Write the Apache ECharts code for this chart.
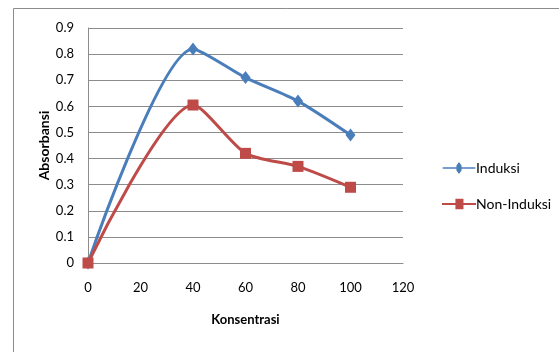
<!DOCTYPE html>
<html>
<head>
<meta charset="utf-8">
<script src="https://cdn.jsdelivr.net/npm/echarts@6/dist/echarts.min.js"></script>
<style>
  html, body { margin: 0; padding: 0; background: #fff; }
  #chart { width: 559px; height: 352px; }
</style>
</head>
<body>
<div id="chart"></div>
<script>
const konsentrasi = [0, 40, 60, 80, 100];
const induksi = [0, 0.82, 0.71, 0.62, 0.49];
const nonInduksi = [0, 0.605, 0.42, 0.37, 0.29];

const FONT = "Lato";
const chart = echarts.init(document.getElementById("chart"));
chart.setOption({
  animation: false,
  textStyle: { fontFamily: FONT },
  grid: { left: 88, right: 156, top: 28, bottom: 89 },
  graphic: [{
    type: "rect", shape: { x: 13.5, y: 8.5, width: 560, height: 360 },
    style: { fill: "none", stroke: "#8c8c8c", lineWidth: 1 }, silent: true
  }],
  legend: {
    orient: "vertical", left: 437, top: 156, itemGap: 22,
    itemWidth: 34, itemHeight: 12,
    textStyle: { fontFamily: FONT, fontSize: 14, color: "#000", padding: [0, 0, 0, -5] },
    data: [
      { name: "Induksi", icon: "path://M0,6L16,6L16,4L19,0L22,4L22,6L38,6L38,8L22,8L22,10L19,14L16,10L16,8L0,8Z" },
      { name: "Non-Induksi", icon: "path://M0,6L15,6L15,1L24,1L24,6L38,6L38,8L24,8L24,13L15,13L15,8L0,8Z" }
    ]
  },
  xAxis: {
    type: "value", min: 0, max: 120, interval: 20,
    name: "Konsentrasi", nameLocation: "middle", nameGap: 50,
    nameTextStyle: { fontFamily: FONT, fontWeight: "bold", fontSize: 13, color: "#000" },
    axisLine: { show: true, lineStyle: { color: "#8c8c8c" } },
    axisTick: { show: false },
    axisLabel: { color: "#000", fontSize: 13, margin: 18 },
    splitLine: { show: false }
  },
  yAxis: {
    type: "value", min: 0, max: 0.9, interval: 0.1,
    name: "Absorbansi", nameLocation: "middle", nameGap: 37, nameMoveOverlap: false,
    nameTextStyle: { fontFamily: FONT, fontWeight: "bold", fontSize: 14, color: "#000" },
    axisLine: { show: true, lineStyle: { color: "#8c8c8c" } },
    axisTick: { show: false },
    axisLabel: { color: "#000", fontSize: 13, margin: 14, formatter: v => String(+v.toFixed(1)) },
    splitLine: { lineStyle: { color: "#8c8c8c", width: 1 } }
  },
  series: [
    {
      name: "Induksi", type: "line", smooth: 0.25,
      data: konsentrasi.map((x, i) => [x, induksi[i]]),
      symbol: "diamond", symbolSize: [10, 13],
      lineStyle: { color: "#4a7ebb", width: 3 },
      itemStyle: { color: "#4a7ebb" }
    },
    {
      name: "Non-Induksi", type: "line", smooth: 0.25,
      data: konsentrasi.map((x, i) => [x, nonInduksi[i]]),
      symbol: "rect", symbolSize: 11,
      lineStyle: { color: "#be4b48", width: 3 },
      itemStyle: { color: "#be4b48" }
    }
  ]
});
</script>
</body>
</html>
